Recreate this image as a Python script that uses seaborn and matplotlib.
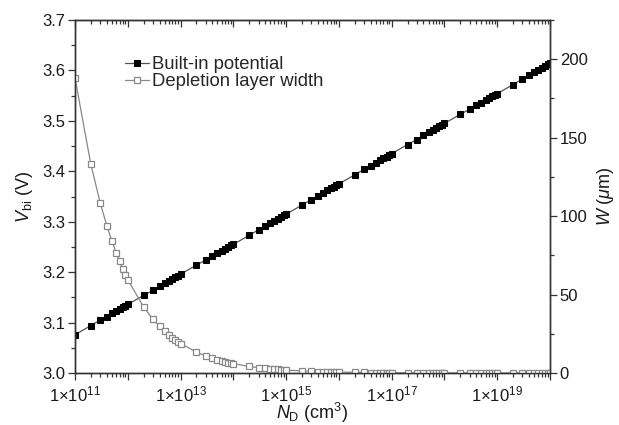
import matplotlib
matplotlib.use('Agg')
import matplotlib.pyplot as plt
import matplotlib.ticker as mticker
import numpy as np
import pandas as pd
import seaborn as sns

# donor concentration (cm^-3), 1..9 per decade
nd = [1e11, 2e11, 3e11, 4e11, 5e11, 6e11, 7e11, 8e11, 9e11,
      1e12, 2e12, 3e12, 4e12, 5e12, 6e12, 7e12, 8e12, 9e12,
      1e13, 2e13, 3e13, 4e13, 5e13, 6e13, 7e13, 8e13, 9e13,
      1e14, 2e14, 3e14, 4e14, 5e14, 6e14, 7e14, 8e14, 9e14,
      1e15, 2e15, 3e15, 4e15, 5e15, 6e15, 7e15, 8e15, 9e15,
      1e16, 2e16, 3e16, 4e16, 5e16, 6e16, 7e16, 8e16, 9e16,
      1e17, 2e17, 3e17, 4e17, 5e17, 6e17, 7e17, 8e17, 9e17,
      1e18, 2e18, 3e18, 4e18, 5e18, 6e18, 7e18, 8e18, 9e18,
      1e19, 2e19, 3e19, 4e19, 5e19, 6e19, 7e19, 8e19, 9e19,
      1e20]

# built-in potential (V)
vbi = [3.076, 3.094, 3.105, 3.112, 3.118, 3.123, 3.127, 3.130, 3.133,
       3.136, 3.154, 3.164, 3.172, 3.178, 3.182, 3.186, 3.190, 3.193,
       3.196, 3.214, 3.224, 3.232, 3.237, 3.242, 3.246, 3.250, 3.253,
       3.255, 3.273, 3.284, 3.291, 3.297, 3.302, 3.306, 3.309, 3.313,
       3.315, 3.333, 3.344, 3.351, 3.357, 3.362, 3.366, 3.369, 3.372,
       3.375, 3.393, 3.404, 3.411, 3.417, 3.422, 3.426, 3.429, 3.432,
       3.435, 3.453, 3.463, 3.471, 3.477, 3.481, 3.485, 3.489, 3.492,
       3.495, 3.513, 3.523, 3.531, 3.536, 3.541, 3.545, 3.549, 3.552,
       3.554, 3.572, 3.583, 3.590, 3.596, 3.601, 3.605, 3.608, 3.612,
       3.614]

# depletion layer width (um)
w = [188.0, 132.9, 108.5, 94.0, 84.1, 76.8, 71.1, 66.5, 62.7,
     59.45, 42.03, 34.32, 29.73, 26.59, 24.27, 22.47, 21.02, 19.82,
     18.80, 13.29, 10.85, 9.40, 8.41, 7.68, 7.11, 6.65, 6.27,
     5.945, 4.203, 3.432, 2.973, 2.659, 2.427, 2.247, 2.102, 1.982,
     1.880, 1.329, 1.085, 0.940, 0.841, 0.768, 0.711, 0.665, 0.627,
     0.595, 0.420, 0.343, 0.297, 0.266, 0.243, 0.225, 0.210, 0.198,
     0.188, 0.133, 0.109, 0.094, 0.084, 0.077, 0.071, 0.067, 0.063,
     0.059, 0.042, 0.034, 0.030, 0.027, 0.024, 0.022, 0.021, 0.020,
     0.019, 0.013, 0.011, 0.009, 0.008, 0.008, 0.007, 0.007, 0.006,
     0.006]

df = pd.DataFrame({'nd': nd, 'vbi': vbi, 'w': w})

sns.set_style('ticks')
plt.rcParams['font.family'] = ['Liberation Sans', 'DejaVu Sans']
plt.rcParams['mathtext.fontset'] = 'custom'
plt.rcParams['mathtext.rm'] = 'Liberation Sans'
plt.rcParams['mathtext.it'] = 'Liberation Sans:italic'

fig = plt.figure(figsize=(6.19, 4.25), dpi=100)
ax = fig.add_axes([75 / 619, 1 - 373 / 425, 475 / 619, 353 / 425])
ax2 = ax.twinx()

axcol = '#333333'
txtcol = '#1a1a1a'
sns.lineplot(data=df, x='nd', y='vbi', ax=ax, color='#555555', lw=0.9,
             marker='s', markersize=4.6, markerfacecolor='black',
             markeredgecolor='black', label='Built-in potential', legend=False)
sns.lineplot(data=df, x='nd', y='w', ax=ax2, color='#888888', lw=0.9,
             marker='s', markersize=4.6, markerfacecolor='white',
             markeredgecolor='#888888', markeredgewidth=0.9,
             label='Depletion layer width', legend=False)

ax.set_xscale('log')
ax.set_xlim(1e11, 1e20)
ax.set_ylim(3.0, 3.7)
ax2.set_ylim(0, 225)

major = mticker.LogLocator(base=10, numticks=20)
minor = mticker.LogLocator(base=10, subs=np.arange(2, 10), numticks=20)
ax.xaxis.set_major_locator(major)
ax.xaxis.set_minor_locator(minor)
def fmt(v, pos):
    e = int(round(np.log10(v)))
    return r'1$\times$10$^{%d}$' % e if e % 2 == 1 else ''
ax.xaxis.set_major_formatter(mticker.FuncFormatter(fmt))
ax.yaxis.set_major_locator(mticker.MultipleLocator(0.1))
ax.yaxis.set_minor_locator(mticker.MultipleLocator(0.05))
ax.yaxis.set_major_formatter(mticker.FormatStrFormatter('%.1f'))
ax2.yaxis.set_major_locator(mticker.MultipleLocator(50))
ax2.yaxis.set_minor_locator(mticker.MultipleLocator(25))

# top axis: mirrored ticks pointing inward, no labels
top = ax.secondary_xaxis('top')
top.xaxis.set_major_locator(mticker.LogLocator(base=10, numticks=20))
top.xaxis.set_minor_locator(mticker.LogLocator(base=10, subs=np.arange(2, 10), numticks=20))
top.tick_params(which='both', direction='in', labeltop=False, colors=axcol, width=0.9)
top.tick_params(which='major', length=5)
top.tick_params(which='minor', length=3)
top.spines['top'].set_color(axcol)

for a in (ax, ax2):
    for s in a.spines.values():
        s.set_color(axcol)
        s.set_linewidth(1.0)
    a.tick_params(which='both', direction='out', colors=axcol, labelcolor=txtcol,
                  labelsize=12, width=0.9)
    a.tick_params(which='major', length=5)
    a.tick_params(which='minor', length=3)
ax.tick_params(axis='y', which='both', right=False)
ax.tick_params(axis='x', pad=3)
ax.tick_params(axis='y', pad=2)
ax2.tick_params(pad=2)

ax.set_xlabel(r'$N_{\mathrm{D}}$ (cm$^3$)', fontsize=13, color=txtcol, labelpad=-2)
ax.set_ylabel(r'$V_{\mathrm{bi}}$ (V)', fontsize=13, color=txtcol, labelpad=5)
ax2.set_ylabel(r'$W$ ($\mu$m)', fontsize=13, color=txtcol, rotation=90, labelpad=5)

h1, l1 = ax.get_legend_handles_labels()
h2, l2 = ax2.get_legend_handles_labels()
ax.legend(h1 + h2, l1 + l2, loc='upper left', bbox_to_anchor=(0.105, 0.897),
          frameon=False, fontsize=13.3, handlelength=1.3, handletextpad=0.15,
          labelspacing=-0.02, borderaxespad=0, borderpad=0)

fig.savefig('out.png', dpi=100)
